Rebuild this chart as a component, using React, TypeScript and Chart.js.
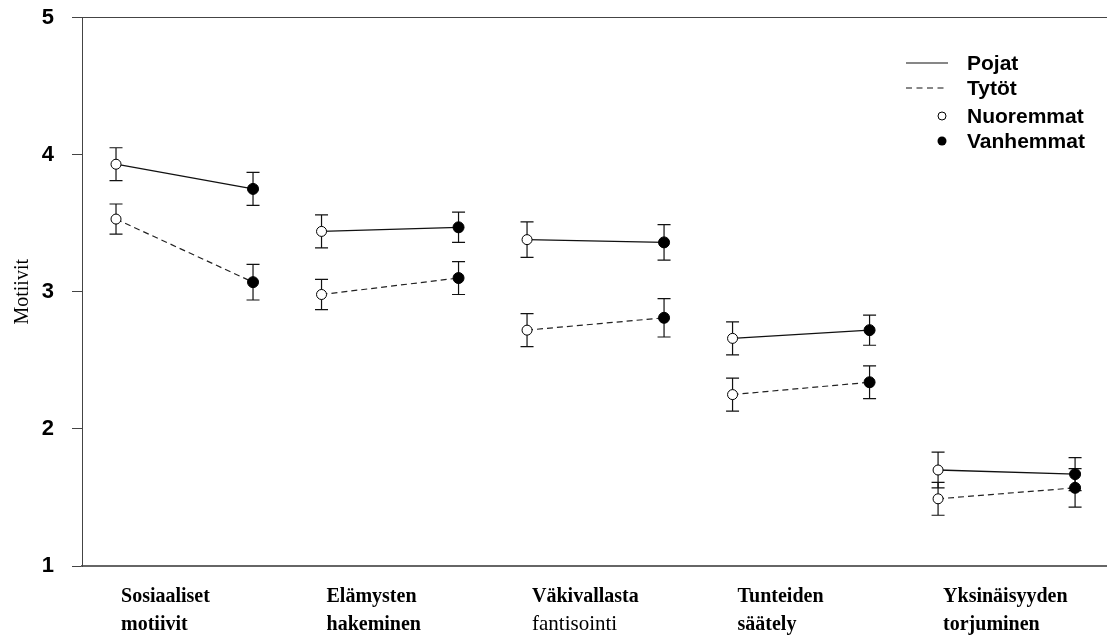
import React, { useEffect, useRef } from "react";
import { Chart, registerables } from "chart.js";

Chart.register(...registerables);

// ---- Data ----
const categoryLine1 = ["Sosiaaliset", "Elämysten", "Väkivallasta", "Tunteiden", "Yksinäisyyden"];
const categoryLine2 = ["motiivit", "hakeminen", "fantisointi", "säätely", "torjuminen"];
const categoryLine2Bold = [true, true, false, true, true];

const pojatNuoremmat = [3.93, 3.44, 3.38, 2.66, 1.70];
const pojatVanhemmat = [3.75, 3.47, 3.36, 2.72, 1.67];
const tytotNuoremmat = [3.53, 2.98, 2.72, 2.25, 1.49];
const tytotVanhemmat = [3.07, 3.10, 2.81, 2.34, 1.57];

const pojatNuoremmatErr = [0.12, 0.12, 0.13, 0.12, 0.13];
const pojatVanhemmatErr = [0.12, 0.11, 0.13, 0.11, 0.12];
const tytotNuoremmatErr = [0.11, 0.11, 0.12, 0.12, 0.12];
const tytotVanhemmatErr = [0.13, 0.12, 0.14, 0.12, 0.14];

const yTickValues = [1, 2, 3, 4, 5];
const legendLabels = ["Pojat", "Tytöt", "Nuoremmat", "Vanhemmat"];
const yTitle = "Motiivit";

const AGE_OFFSET = 2 / 3;

type Pt = { x: number; y: number; e: number };

function buildDatasets() {
  const ds: any[] = [];
  for (let i = 0; i < categoryLine1.length; i++) {
    const pojat: Pt[] = [
      { x: i, y: pojatNuoremmat[i], e: pojatNuoremmatErr[i] },
      { x: i + AGE_OFFSET, y: pojatVanhemmat[i], e: pojatVanhemmatErr[i] },
    ];
    const tytot: Pt[] = [
      { x: i, y: tytotNuoremmat[i], e: tytotNuoremmatErr[i] },
      { x: i + AGE_OFFSET, y: tytotVanhemmat[i], e: tytotVanhemmatErr[i] },
    ];
    ds.push({
      label: "Pojat",
      data: pojat,
      borderColor: "#111",
      borderWidth: 1.3,
      borderDash: [],
      pointBackgroundColor: ["#fff", "#000"],
      pointBorderColor: "#000",
      pointBorderWidth: 1,
      pointRadius: [5, 5.5],
      fill: false,
    });
    ds.push({
      label: "Tytöt",
      data: tytot,
      borderColor: "#222",
      borderWidth: 1.2,
      borderDash: [6, 4],
      pointBackgroundColor: ["#fff", "#000"],
      pointBorderColor: "#000",
      pointBorderWidth: 1,
      pointRadius: [5, 5.5],
      fill: false,
    });
  }
  return ds;
}

const errorBarPlugin = {
  id: "errorBars",
  beforeDatasetsDraw(chart: any) {
    const ctx = chart.ctx;
    const yScale = chart.scales.y;
    ctx.save();
    ctx.strokeStyle = "#111";
    ctx.lineWidth = 1.2;
    chart.data.datasets.forEach((d: any, di: number) => {
      const meta = chart.getDatasetMeta(di);
      meta.data.forEach((el: any, pi: number) => {
        const p = d.data[pi];
        const x = el.x;
        const yt = yScale.getPixelForValue(p.y + p.e);
        const yb = yScale.getPixelForValue(p.y - p.e);
        ctx.beginPath();
        ctx.moveTo(x, yt);
        ctx.lineTo(x, yb);
        ctx.moveTo(x - 6.5, yt);
        ctx.lineTo(x + 6.5, yt);
        ctx.moveTo(x - 6.5, yb);
        ctx.lineTo(x + 6.5, yb);
        ctx.stroke();
      });
    });
    ctx.restore();
  },
};

const labelsPlugin = {
  id: "labelsAndLegend",
  afterDraw(chart: any) {
    const ctx = chart.ctx;
    const xScale = chart.scales.x;
    ctx.save();
    ctx.fillStyle = "#000";
    ctx.textAlign = "left";
    ctx.textBaseline = "alphabetic";
    for (let i = 0; i < categoryLine1.length; i++) {
      const x = xScale.getPixelForValue(i) + 5;
      ctx.font = "bold 20px 'Liberation Serif', 'Times New Roman', serif";
      ctx.fillText(categoryLine1[i], x, 602);
      ctx.font = categoryLine2Bold[i]
        ? "bold 20px 'Liberation Serif', 'Times New Roman', serif"
        : "21px 'Liberation Serif', 'Times New Roman', serif";
      ctx.fillText(categoryLine2[i], x, 630);
    }

    // legend
    const lx0 = 906;
    const lx1 = 948;
    const tx = 967;
    const rows = [63, 88, 116, 141];
    ctx.font = "bold 21px 'Liberation Sans', Arial, sans-serif";
    ctx.textBaseline = "middle";
    legendLabels.forEach((t, i) => ctx.fillText(t, tx, rows[i] + 1));

    ctx.strokeStyle = "#111";
    ctx.lineWidth = 1.2;
    ctx.beginPath();
    ctx.moveTo(lx0, rows[0]);
    ctx.lineTo(lx1, rows[0]);
    ctx.stroke();
    ctx.setLineDash([6, 4.5]);
    ctx.beginPath();
    ctx.moveTo(lx0, rows[1]);
    ctx.lineTo(lx1 - 4, rows[1]);
    ctx.stroke();
    ctx.setLineDash([]);

    ctx.lineWidth = 1;
    ctx.strokeStyle = "#000";
    ctx.fillStyle = "#fff";
    ctx.beginPath();
    ctx.arc(942, rows[2], 4, 0, Math.PI * 2);
    ctx.fill();
    ctx.stroke();
    ctx.fillStyle = "#000";
    ctx.beginPath();
    ctx.arc(942, rows[3], 4.5, 0, Math.PI * 2);
    ctx.fill();
    ctx.restore();
  },
};

export default function App() {
  const canvasRef = useRef<HTMLCanvasElement | null>(null);

  useEffect(() => {
    if (!canvasRef.current) return;
    const chart = new Chart(canvasRef.current, {
      type: "line",
      data: { datasets: buildDatasets() },
      options: {
        responsive: false,
        animation: false,
        events: [],
        layout: { autoPadding: false, padding: { top: 17.5, right: 0, left: 0, bottom: 0 } },
        plugins: {
          legend: { display: false },
          tooltip: { enabled: false },
        },
        scales: {
          x: {
            type: "linear",
            min: -0.1655,
            max: 4.822,
            ticks: { display: false },
            grid: { display: false },
            border: { display: true, color: "#666", width: 2 },
            afterFit: (s: any) => {
              s.height = 75;
              s.paddingLeft = 0;
              s.paddingRight = 0;
              s.paddingTop = 0;
              s.paddingBottom = 0;
            },
          },
          y: {
            type: "linear",
            min: 1,
            max: 5,
            afterBuildTicks: (s: any) => {
              s.ticks = yTickValues.map((v) => ({ value: v }));
            },
            ticks: {
              color: "#000",
              padding: 18,
              font: { family: "'Liberation Sans', Arial, sans-serif", size: 22, weight: "bold" },
            },
            grid: {
              drawOnChartArea: true,
              color: (c: any) => (c.tick && c.tick.value === 5 ? "#444" : "rgba(0,0,0,0)"),
              tickColor: "#444",
              tickLength: 10,
              lineWidth: 1,
            },
            border: { display: true, color: "#444", width: 1 },
            title: {
              display: true,
              text: yTitle,
              color: "#000",
              font: { family: "'Liberation Serif', 'Times New Roman', serif", size: 20 },
              padding: { top: 11, bottom: 0 },
            },
            afterFit: (s: any) => {
              s.width = 82;
              s.paddingLeft = 0;
              s.paddingRight = 0;
              s.paddingTop = 0;
              s.paddingBottom = 0;
            },
          },
        },
      } as any,
      plugins: [errorBarPlugin, labelsPlugin],
    });
    return () => chart.destroy();
  }, []);

  return (
    <div style={{ position: "absolute", left: 0, top: 0, width: 1107, height: 641, background: "#fff" }}>
      <canvas ref={canvasRef} width={1107} height={641} style={{ display: "block" }} />
    </div>
  );
}
